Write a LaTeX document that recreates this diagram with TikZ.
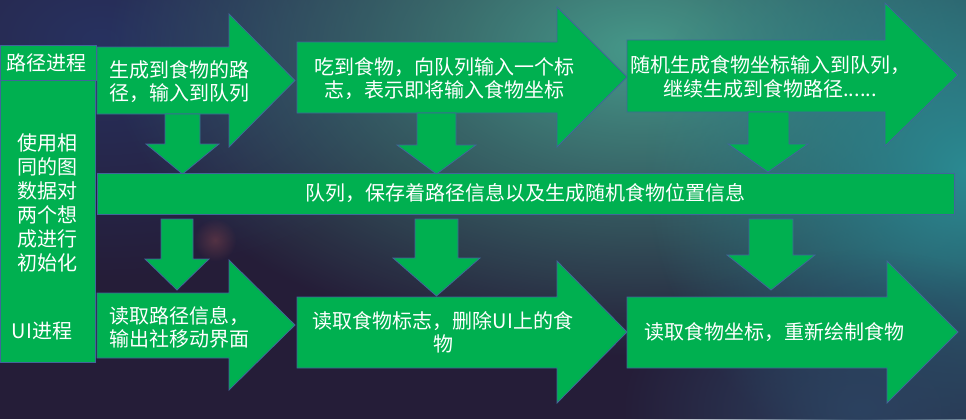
\documentclass[tikz,border=0pt]{standalone}
\usepackage{fontspec}
\setmainfont{Noto Sans CJK SC}
\usetikzlibrary{fadings}
\tikzfading[name=glow, inner color=transparent!0, outer color=transparent!100]
\definecolor{bgbase}{HTML}{251D38}
\definecolor{tealglow}{HTML}{46998A}
\definecolor{tealright}{HTML}{2A8A92}
\definecolor{navyglow}{HTML}{283260}
\definecolor{blueglow}{HTML}{2C4260}
\definecolor{redglow}{HTML}{9A5050}
\definecolor{pptgreen}{HTML}{00B050}
\definecolor{edgeblue}{HTML}{41669A}
\tikzset{
  blk/.style={fill=pptgreen, draw=edgeblue, line width=0.6pt, line join=miter},
  lbl/.style={text=white, font=\fontsize{15}{17.5}\selectfont, inner sep=0pt, align=center},
}
\begin{document}
\begin{tikzpicture}[x=0.75pt,y=-0.75pt]
\useasboundingbox (0,0) rectangle (966,419);
% background
\fill[bgbase] (0,0) rectangle (966,419);
\begin{scope}
\clip (0,0) rectangle (966,419);
\fill[navyglow, path fading=glow] (100,40) ellipse [x radius=280pt, y radius=180pt];
\fill[tealglow, path fading=glow] (640,50) ellipse [x radius=400pt, y radius=230pt];
\fill[tealright, path fading=glow] (966,170) ellipse [x radius=240pt, y radius=240pt];
\fill[blueglow, path fading=glow] (860,410) ellipse [x radius=180pt, y radius=120pt];
\fill[redglow, path fading=glow, opacity=0.4] (215,240) ellipse [x radius=16pt, y radius=16pt];
\end{scope}

% left column
\draw[blk] (0,80) rectangle (95,362);
\draw[blk] (0,45) rectangle (96,80);
\node[lbl] (hdr) at (47,63) {路径进程};
\node[lbl, font=\fontsize{15}{18}\selectfont] (init) at (47,203) {使用相\\同的图\\数据对\\两个想\\成进行\\初始化};
\node[lbl] (ui) at (42,331) {UI进程};

% top row arrows
\draw[blk] (97,47) -- (229,47) -- (229,14) -- (295,80.5) -- (229,147) -- (229,114) -- (97,114) -- cycle;
\draw[blk] (297,42) -- (557,42) -- (557,7) -- (627,77) -- (557,147) -- (557,113) -- (297,113) -- cycle;
\draw[blk] (627,40) -- (885,40) -- (885,3) -- (958,75) -- (885,146) -- (885,112) -- (627,112) -- cycle;

% top down arrows
\draw[blk] (165,114) -- (200,114) -- (200,144) -- (219,144) -- (182.5,174) -- (146,144) -- (165,144) -- cycle;
\draw[blk] (417,113) -- (456,113) -- (456,145) -- (476,145) -- (436.5,174) -- (397,145) -- (417,145) -- cycle;
\draw[blk] (748,112) -- (789,112) -- (789,144) -- (808,144) -- (768,172) -- (728,144) -- (748,144) -- cycle;

% queue bar
\draw[blk] (97,173) rectangle (954,214);

% bottom down arrows
\draw[blk] (161,219) -- (193,219) -- (193,259) -- (209,259) -- (177,290) -- (145,259) -- (161,259) -- cycle;
\draw[blk] (415,219) -- (458,219) -- (458,258) -- (480,258) -- (436.5,296) -- (393,258) -- (415,258) -- cycle;
\draw[blk] (749,219) -- (793,219) -- (793,255) -- (815,255) -- (771,290) -- (727,255) -- (749,255) -- cycle;

% bottom row arrows
\draw[blk] (97,293) -- (229,293) -- (229,260) -- (295,325) -- (229,390) -- (229,358) -- (97,358) -- cycle;
\draw[blk] (297,297) -- (557,297) -- (557,261) -- (627,332) -- (557,403) -- (557,368) -- (297,368) -- cycle;
\draw[blk] (627,297) -- (887,297) -- (887,261) -- (958,332) -- (887,403) -- (887,368) -- (627,368) -- cycle;

% texts
\node[lbl, align=left, anchor=west] (t1) at (109,81.5) {生成到食物的路\\径，输入到队列};
\node[lbl] (t2) at (444,78.5) {吃到食物，向队列输入一个标\\志，表示即将输入食物坐标};
\node[lbl] (t3) at (770,77) {随机生成食物坐标输入到队列，\\继续生成到食物路径......};
\node[lbl] (q) at (525,193) {队列，保存着路径信息以及生成随机食物位置信息};
\node[lbl, align=left, anchor=west] (b1) at (109,327.5) {读取路径信息，\\输出社移动界面};
\node[lbl] (b2) at (443,332) {读取食物标志，删除UI上的食\\物};
\node[lbl] (b3) at (774,332) {读取食物坐标，重新绘制食物};
\end{tikzpicture}
\end{document}
